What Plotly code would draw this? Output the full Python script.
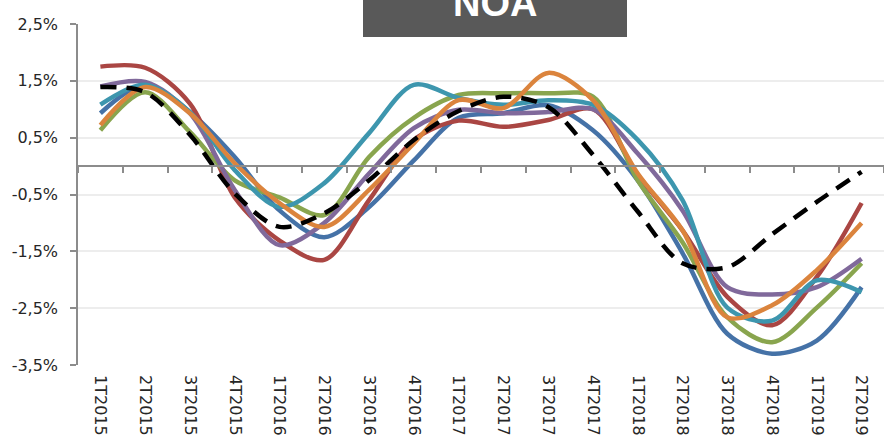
import plotly.graph_objects as go

categories = ["1T2015", "2T2015", "3T2015", "4T2015", "1T2016", "2T2016", "3T2016", "4T2016",
              "1T2017", "2T2017", "3T2017", "4T2017", "1T2018", "2T2018", "3T2018", "4T2018",
              "1T2019", "2T2019"]

blue = [0.93, 1.43, 0.95, 0.16, -0.78, -1.25, -0.72, 0.10, 0.85, 0.93, 1.07, 0.63, -0.25, -1.53, -2.95, -3.30, -3.07, -2.13]
red = [1.75, 1.73, 1.10, -0.55, -1.31, -1.65, -0.60, 0.46, 0.80, 0.69, 0.81, 1.00, -0.15, -1.13, -2.30, -2.80, -1.95, -0.65]
green = [0.63, 1.30, 0.60, -0.25, -0.55, -0.86, 0.16, 0.85, 1.25, 1.28, 1.28, 1.22, -0.25, -1.34, -2.66, -3.10, -2.49, -1.71]
purple = [1.40, 1.48, 0.93, -0.42, -1.39, -1.00, -0.13, 0.67, 0.99, 0.93, 0.95, 1.00, 0.22, -0.78, -2.13, -2.26, -2.13, -1.63]
teal = [1.08, 1.43, 0.95, -0.07, -0.72, -0.30, 0.58, 1.43, 1.20, 1.08, 1.16, 1.08, 0.46, -0.60, -2.49, -2.72, -2.01, -2.22]
orange = [0.72, 1.39, 0.93, 0.05, -0.65, -1.07, -0.42, 0.40, 1.16, 1.02, 1.64, 1.16, -0.13, -1.13, -2.66, -2.45, -1.83, -1.00]
black = [1.39, 1.30, 0.55, -0.48, -1.07, -0.83, -0.25, 0.46, 0.97, 1.22, 1.04, 0.20, -0.80, -1.71, -1.78, -1.20, -0.63, -0.10]

series = [
    ("Serie 1", blue, "#4572A7", "solid"),
    ("Serie 2", red, "#AA4643", "solid"),
    ("Serie 3", green, "#89A54E", "solid"),
    ("Serie 4", purple, "#80699B", "solid"),
    ("Serie 5", teal, "#3D96AE", "solid"),
    ("Serie 6", orange, "#DB843D", "solid"),
    ("Serie 7", black, "#000000", "16px,10px"),
]

y_tickvals = [2.5, 1.5, 0.5, -0.5, -1.5, -2.5, -3.5]
y_ticktext = ["2,5%", "1,5%", "0,5%", "-0,5%", "-1,5%", "-2,5%", "-3,5%"]
title_text = "NOA"

fig = go.Figure()

# invisible trace for the overlay axis carrying the zero line and its ticks
fig.add_trace(go.Scatter(x=categories, y=[0] * len(categories), xaxis="x2", mode="lines",
                         line=dict(width=0, color="rgba(0,0,0,0)"), hoverinfo="skip", showlegend=False))

for name, vals, color, dash in series:
    fig.add_trace(go.Scatter(x=categories, y=vals, name=name, mode="lines",
                             line=dict(color=color, width=4.5, dash=dash, shape="spline", smoothing=0.9),
                             showlegend=False))

zero_pos = (0 - (-3.5)) / (2.5 - (-3.5))

fig.update_layout(
    width=884, height=448,
    margin=dict(l=78, r=0, t=24, b=83),
    paper_bgcolor="white", plot_bgcolor="white",
    font=dict(family="DejaVu Sans", size=16, color="#262626"),
    xaxis=dict(type="category", categoryorder="array", categoryarray=categories,
               range=[-0.5, len(categories) - 0.5], tickangle=90, showgrid=False,
               showline=False, ticks="", ticklabelstandoff=9, zeroline=False,
               tickfont=dict(family="DejaVu Sans", size=16, color="#262626")),
    xaxis2=dict(type="category", categoryorder="array", categoryarray=categories,
                range=[-0.5, len(categories) - 0.5], overlaying="x", anchor="free",
                position=zero_pos, side="bottom", showline=True, linecolor="#8C8C8C",
                linewidth=1.5, ticks="outside", tickson="boundaries", ticklen=6,
                tickwidth=1.5, tickcolor="#8C8C8C", showticklabels=False, showgrid=False,
                zeroline=False),
    yaxis=dict(range=[-3.5, 2.5], tickvals=y_tickvals, ticktext=y_ticktext,
               showgrid=True, gridcolor="#EDEDED", gridwidth=1.5, zeroline=False,
               showline=True, linecolor="#8C8C8C", linewidth=1.5, ticks="outside",
               ticklen=6, tickwidth=1.5, tickcolor="#8C8C8C", ticklabelstandoff=9,
               tickfont=dict(family="DejaVu Sans", size=16, color="#262626")),
    shapes=[dict(type="rect", xref="paper", yref="paper",
                 x0=(363 - 78) / 806, x1=(627 - 78) / 806,
                 y0=(365 - 37) / 341, y1=1.3,
                 fillcolor="#595959", line=dict(width=0), layer="above")],
    annotations=[dict(text="<b>" + title_text + "</b>", xref="paper", yref="paper",
                      x=(495 - 78) / 806, y=(365 - 3) / 341, xanchor="center", yanchor="middle",
                      showarrow=False,
                      font=dict(family="Liberation Sans", size=38, color="white"))],
)

fig.write_html("out.html", config={"displayModeBar": False},
               post_script="document.body.style.margin='0px';document.body.style.overflow='hidden';")
